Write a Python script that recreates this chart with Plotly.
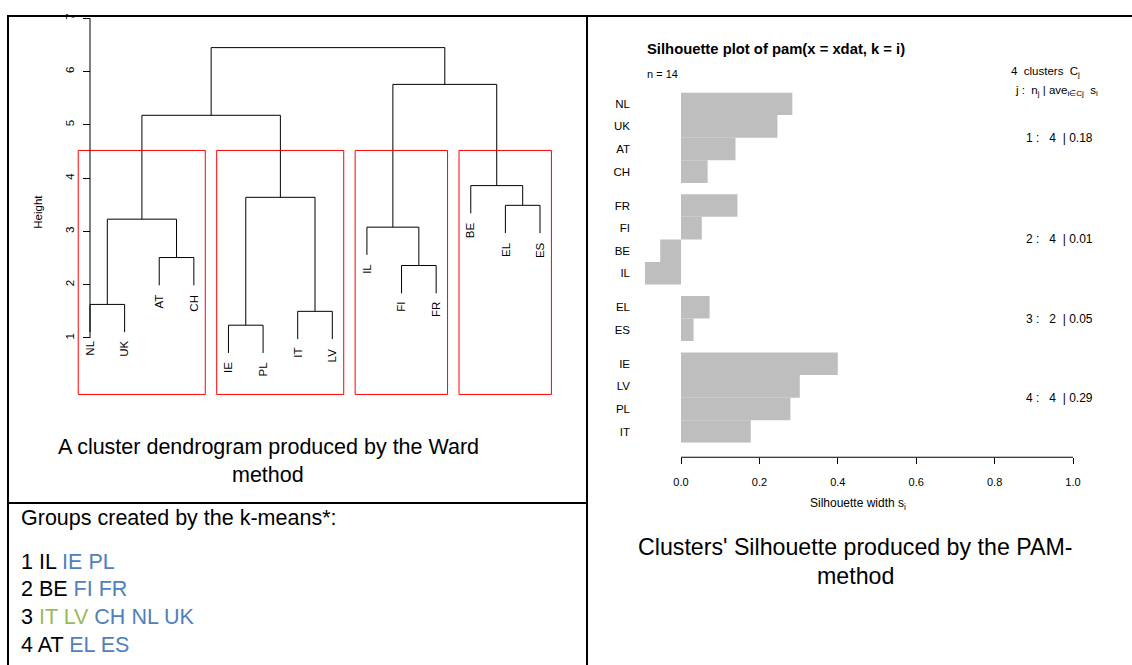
import plotly.graph_objects as go

W, H = 1132, 665
FONT = "Liberation Sans, Arial, sans-serif"

# ---------------- Ward dendrogram ----------------
leaf_order = ["NL", "UK", "AT", "CH", "IE", "PL", "IT", "LV", "IL", "FI", "FR", "BE", "EL", "ES"]
# each merge joins two children (leaf names or earlier merge indices) at a height
merge_a = ["NL", "AT", 0, "IE", "IT", 3, 2, "FI", "IL", "EL", "BE", 8, 6]
merge_b = ["UK", "CH", 1, "PL", "LV", 4, 5, "FR", 7, "ES", 9, 10, 11]
merge_height = [1.63, 2.51, 3.23, 1.24, 1.50, 3.64, 5.18, 2.36, 3.08, 3.49, 3.86, 5.76, 6.45]
n_groups = 4

# ---------------- PAM silhouette ----------------
sil_names = ["NL", "UK", "AT", "CH", "FR", "FI", "BE", "IL", "EL", "ES", "IE", "LV", "PL", "IT"]
sil_cluster = [1, 1, 1, 1, 2, 2, 2, 2, 3, 3, 4, 4, 4, 4]
sil_width = [0.284, 0.246, 0.139, 0.068, 0.144, 0.053, -0.053, -0.092, 0.073, 0.032,
             0.400, 0.303, 0.279, 0.178]
sil_ticks = [0.0, 0.2, 0.4, 0.6, 0.8, 1.0]

# ---------------- k-means groups ----------------
kmeans_groups = [["IL", "IE", "PL"], ["BE", "FI", "FR"], ["IT", "LV", "CH", "NL", "UK"], ["AT", "EL", "ES"]]
kmeans_tone = [["k", "b", "b"], ["k", "b", "b"], ["g", "g", "b", "b", "b"], ["k", "b", "b"]]
tone_color = {"k": "#000000", "b": "#4F81BD", "g": "#9BBB59"}


def px_x(p):
    return p / W


def px_y(p):
    return 1 - p / H


# --- dendrogram geometry computed from the merge table ---
hang = 0.1 * (max(merge_height) - min(merge_height))
node_x = {}


def child_x(c):
    return leaf_order.index(c) + 1 if isinstance(c, str) else node_x[c]


for i, (a, b) in enumerate(zip(merge_a, merge_b)):
    node_x[i] = (child_x(a) + child_x(b)) / 2

lx, ly = [], []
for i, (a, b, h) in enumerate(zip(merge_a, merge_b, merge_height)):
    ya = h - hang if isinstance(a, str) else merge_height[a]
    yb = h - hang if isinstance(b, str) else merge_height[b]
    lx += [child_x(a), child_x(a), child_x(b), child_x(b), None]
    ly += [ya, h, h, yb, None]

leaf_y = {}
for a, b, h in zip(merge_a, merge_b, merge_height):
    for c in (a, b):
        if isinstance(c, str):
            leaf_y[c] = h - hang

# cut into k groups
srt = sorted(merge_height, reverse=True)
cut_h = (srt[n_groups - 2] + srt[n_groups - 1]) / 2


def leaves_of(c):
    if isinstance(c, str):
        return [c]
    return leaves_of(merge_a[c]) + leaves_of(merge_b[c])


def split(c):
    if isinstance(c, str) or merge_height[c] <= cut_h:
        return [leaves_of(c)]
    return split(merge_a[c]) + split(merge_b[c])


groups = split(len(merge_height) - 1)
dendro_floor = -0.06

fig = go.Figure()
fig.add_trace(go.Scatter(x=lx, y=ly, mode="lines", line=dict(color="black", width=1),
                         xaxis="x", yaxis="y", hoverinfo="skip", showlegend=False))

shapes = []
for g in groups:
    pos = [leaf_order.index(n) + 1 for n in g]
    shapes.append(dict(type="rect", xref="x", yref="y", x0=min(pos) - 0.34, x1=max(pos) + 0.33,
                       y0=dendro_floor, y1=cut_h, line=dict(color="#FF0000", width=1)))
# y axis line spanning the ticks only
shapes.append(dict(type="line", xref="paper", yref="y", x0=px_x(90), x1=px_x(90), y0=1, y1=7,
                   line=dict(color="black", width=1)))

annotations = []
for n in leaf_order:
    annotations.append(dict(x=leaf_order.index(n) + 1, y=leaf_y[n], xref="x", yref="y", text=n,
                            textangle=-90, showarrow=False, xanchor="center", yanchor="top",
                            yshift=-7, font=dict(family=FONT, size=11.5, color="black")))
annotations.append(dict(x=px_x(38), y=px_y(209), xref="paper", yref="paper", text="Height",
                        textangle=-90, showarrow=False, xanchor="center", yanchor="middle",
                        font=dict(family=FONT, size=11.5, color="black")))

# --- silhouette bars ---
sil_pos = []
gap = 0
for i, c in enumerate(sil_cluster):
    if i > 0 and c != sil_cluster[i - 1]:
        gap += 0.5
    sil_pos.append(i + gap)

fig.add_trace(go.Bar(x=sil_width, y=sil_pos, orientation="h", width=1.0, base=0,
                     marker=dict(color="#BEBEBE", line=dict(width=0)),
                     xaxis="x2", yaxis="y2", hoverinfo="skip", showlegend=False))

shapes.append(dict(type="line", xref="x2", yref="paper", x0=0, x1=1, y0=px_y(456), y1=px_y(456),
                   line=dict(color="black", width=1)))

sp = "\u00a0"
for c in sorted(set(sil_cluster)):
    idx = [i for i, k in enumerate(sil_cluster) if k == c]
    avg = sum(sil_width[i] for i in idx) / len(idx)
    yc = sum(sil_pos[i] for i in idx) / len(idx)
    annotations.append(dict(x=px_x(1095), y=yc, xref="paper", yref="y2",
                            text=f"{c}{sp}:{sp * 3}{len(idx)}{sp * 2}|{sp}{avg:.2f}",
                            showarrow=False, xanchor="right", yanchor="middle",
                            font=dict(family=FONT, size=12, color="black")))

annotations += [
    dict(x=px_x(645), y=px_y(45), xref="paper", yref="paper", xanchor="left", yanchor="middle",
         text="<b>Silhouette plot of pam(x = xdat, k = i)</b>", showarrow=False,
         font=dict(family=FONT, size=14.8, color="black")),
    dict(x=px_x(645), y=px_y(70), xref="paper", yref="paper", xanchor="left", yanchor="middle",
         text=f"n = {len(sil_names)}", showarrow=False, font=dict(family=FONT, size=11, color="black")),
    dict(x=px_x(1082), y=px_y(68), xref="paper", yref="paper", xanchor="right", yanchor="middle",
         text=f"{len(set(sil_cluster))}{sp} clusters{sp} C<sub>j</sub>", showarrow=False,
         font=dict(family=FONT, size=11.5, color="black")),
    dict(x=px_x(1100), y=px_y(88), xref="paper", yref="paper", xanchor="right", yanchor="middle",
         text=f"j :{sp} n<sub>j</sub> | ave<sub>i\u2208Cj</sub>{sp} s<sub>i</sub>", showarrow=False,
         font=dict(family=FONT, size=11.5, color="black")),
    dict(x=px_x(858), y=px_y(503), xref="paper", yref="paper", xanchor="center", yanchor="middle",
         text="Silhouette width s<sub>i</sub>", showarrow=False,
         font=dict(family=FONT, size=12, color="black")),
]

# --- captions ---
cap_font = dict(family=FONT, size=21.5, color="black")
cap_font_r = dict(family=FONT, size=23.2, color="black")
annotations += [
    dict(x=px_x(268), y=px_y(446), xref="paper", yref="paper", xanchor="center", yanchor="middle",
         text="A cluster dendrogram produced by the Ward", showarrow=False, font=cap_font),
    dict(x=px_x(268), y=px_y(474), xref="paper", yref="paper", xanchor="center", yanchor="middle",
         text="method", showarrow=False, font=cap_font),
    dict(x=px_x(855), y=px_y(546), xref="paper", yref="paper", xanchor="center", yanchor="middle",
         text="Clusters' Silhouette produced by the PAM-", showarrow=False, font=cap_font_r),
    dict(x=px_x(855), y=px_y(575), xref="paper", yref="paper", xanchor="center", yanchor="middle",
         text="method", showarrow=False, font=cap_font_r),
    dict(x=px_x(19), y=px_y(517), xref="paper", yref="paper", xanchor="left", yanchor="middle",
         text="Groups created by the k-means*:", showarrow=False, font=cap_font),
]
line_y = [561, 589, 617, 645]
for k, (grp, tones) in enumerate(zip(kmeans_groups, kmeans_tone)):
    parts = [f"{k + 1}"]
    for name, t in zip(grp, tones):
        parts.append(f'<span style="color:{tone_color[t]}">{name}</span>')
    annotations.append(dict(x=px_x(19), y=px_y(line_y[k]), xref="paper", yref="paper",
                            xanchor="left", yanchor="middle", text=" ".join(parts),
                            showarrow=False, font=cap_font))

# --- table rules ---
rule = dict(color="black", width=2)
shapes += [
    dict(type="line", xref="paper", yref="paper", x0=px_x(7), x1=1, y0=px_y(12), y1=px_y(12), line=rule),
    dict(type="line", xref="paper", yref="paper", x0=px_x(8), x1=px_x(8), y0=px_y(11), y1=0, line=rule),
    dict(type="line", xref="paper", yref="paper", x0=px_x(587), x1=px_x(587), y0=px_y(11), y1=0, line=rule),
    dict(type="line", xref="paper", yref="paper", x0=px_x(8), x1=px_x(587), y0=px_y(502), y1=px_y(502), line=rule),
]

# dendrogram axes: leaf k sits at 90 + (k-1)*34.615 px, height h at 336 - (h-1)*53.6 px
leaf_step, h_step = 34.615, 53.6
x_dom = (60, 587)
y_dom = (13, 400)
fig.update_layout(
    width=W, height=H, margin=dict(l=0, r=0, t=0, b=0),
    paper_bgcolor="white", plot_bgcolor="rgba(0,0,0,0)",
    font=dict(family=FONT, color="black"),
    showlegend=False,
    xaxis=dict(domain=[px_x(x_dom[0]), px_x(x_dom[1])],
               range=[1 + (x_dom[0] - 90) / leaf_step, 1 + (x_dom[1] - 90) / leaf_step],
               visible=False, anchor="y"),
    yaxis=dict(domain=[px_y(y_dom[1]), px_y(y_dom[0])],
               range=[1 - (y_dom[1] - 336) / h_step, 1 + (336 - y_dom[0]) / h_step],
               anchor="free", position=px_x(90), tickvals=[1, 2, 3, 4, 5, 6, 7],
               ticks="outside", ticklen=7, tickcolor="black", tickwidth=1, tickangle=-90,
               ticklabelstandoff=4,
               showgrid=False, zeroline=False, showline=False,
               tickfont=dict(family=FONT, size=11.5, color="black")),
    xaxis2=dict(domain=[px_x(630), px_x(1100)],
                range=[(630 - 681) / 392, (1100 - 681) / 392],
                anchor="free", position=px_y(456), tickvals=sil_ticks, tickformat=".1f",
                ticks="outside", ticklen=6, tickcolor="black", tickwidth=1,
                ticklabelstandoff=9,
                showgrid=False, zeroline=False, showline=False,
                tickfont=dict(family=FONT, size=11, color="black")),
    yaxis2=dict(domain=[px_y(441.5), px_y(89)], range=[sil_pos[-1] + 0.5, -0.5],
                anchor="free", position=px_x(630), tickvals=sil_pos, ticktext=sil_names,
                ticks="", showgrid=False, zeroline=False, showline=False,
                tickfont=dict(family=FONT, size=11.5, color="black")),
    shapes=shapes, annotations=annotations,
)

fig.write_html("out.html")
